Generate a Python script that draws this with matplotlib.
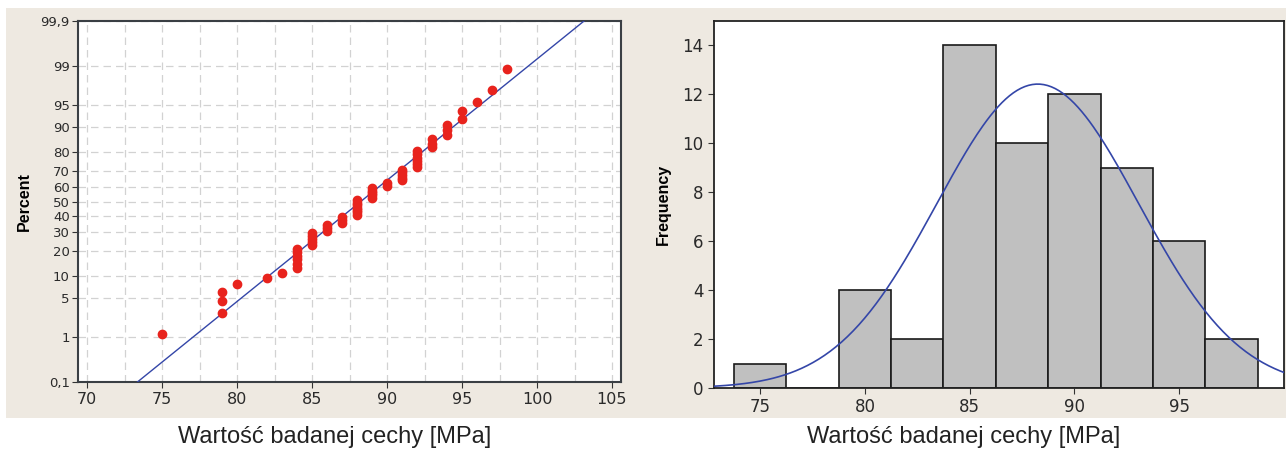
import matplotlib
matplotlib.use("Agg")
import matplotlib.pyplot as plt
from matplotlib.patches import Rectangle
from statistics import NormalDist
import numpy as np

# measured values (MPa) and how many times each occurs
values = [75, 79, 80, 82, 83, 84, 85, 86, 87, 88, 89, 90, 91, 92, 93, 94, 95, 96, 97, 98]
counts = [1, 3, 1, 1, 1, 6, 5, 3, 3, 7, 5, 2, 5, 6, 3, 3, 2, 1, 1, 1]

pct_ticks = [0.1, 1, 5, 10, 20, 30, 40, 50, 60, 70, 80, 90, 95, 99, 99.9]
pct_labels = ["0,1", "1", "5", "10", "20", "30", "40", "50", "60", "70", "80", "90", "95", "99", "99,9"]
prob_xticks = [70, 75, 80, 85, 90, 95, 100, 105]

bin_edges = [73.75 + 2.5 * k for k in range(11)]
hist_xticks = [75, 80, 85, 90, 95]
hist_yticks = [0, 2, 4, 6, 8, 10, 12, 14]

xlabel = "Wartość badanej cechy [MPa]"

data = np.repeat(values, counts).astype(float)
n = len(data)
mu = float(data.mean())
sd = float(data.std(ddof=1))
nd = NormalDist(mu, sd)
std_norm = NormalDist()

red = "#e8231d"
blue = "#3446a8"
beige = "#eee9e1"
tick_font = "DejaVu Sans"

fig = plt.figure(figsize=(12.86, 4.5), dpi=100)
fig.patch.set_facecolor("white")
fig.patches.append(Rectangle((6 / 1286, 1 - 418 / 450), 1, 410 / 450, transform=fig.transFigure,
                             facecolor=beige, edgecolor="none", zorder=-5))

# ---- normal probability plot ----
ax1 = fig.add_axes([78 / 1286, 1 - 382 / 450, 543 / 1286, 361 / 450])
ax1.set_facecolor("white")

ranks = np.arange(1, n + 1)
pos = (ranks - 0.3) / (n + 0.4)
z_pts = [std_norm.inv_cdf(float(p)) for p in pos]
ax1.plot(data, z_pts, "o", color=red, ms=6, mec=red, zorder=4, clip_on=False)

z_lo = std_norm.inv_cdf(0.001)
z_hi = std_norm.inv_cdf(0.999)
zz = np.linspace(z_lo, z_hi, 50)
ax1.plot(mu + zz * sd, zz, color=blue, lw=1.0, zorder=3)

ax1.set_xlim(69.4, 105.6)
ax1.set_ylim(z_lo, z_hi)
ax1.set_yticks([std_norm.inv_cdf(p / 100) for p in pct_ticks])
ax1.set_yticklabels(pct_labels)
ax1.set_xticks(prob_xticks)
ax1.set_xticks(np.arange(72.5, 105, 5), minor=True)
ax1.tick_params(which="minor", length=0)
ax1.grid(True, which="both", color="#d2d2d2", ls=(0, (6, 4)), lw=0.9)
ax1.set_axisbelow(True)
ax1.tick_params(axis="both", labelsize=11.5, length=4, color="#333333", labelcolor="#2a2a2a")
ax1.tick_params(axis="y", labelsize=9.5, pad=2)
for lab in ax1.get_xticklabels() + ax1.get_yticklabels():
    lab.set_family(tick_font)
for sp in ax1.spines.values():
    sp.set_color("#3a3f44")
    sp.set_linewidth(1.5)
ax1.set_ylabel("Percent", fontsize=11.5, fontweight="bold", family="Liberation Sans", labelpad=6)
fig.text(335 / 1286, 1 - 437 / 450, xlabel, ha="center", va="center", fontsize=17,
         family="Liberation Sans", color="#222222")

# ---- histogram with fitted normal curve ----
ax2 = fig.add_axes([714 / 1286, 1 - 388 / 450, 570 / 1286, 367 / 450])
ax2.set_facecolor("white")
ax2.hist(data, bins=bin_edges, color="#c0c0c0", edgecolor="#1a1a1a", lw=1.2, zorder=2)

xx = np.linspace(72.8, 100, 300)
bw = bin_edges[1] - bin_edges[0]
ax2.plot(xx, [nd.pdf(float(x)) * n * bw for x in xx], color=blue, lw=1.2, zorder=3)

ax2.set_xlim(72.8, 100)
ax2.set_ylim(0, 15)
ax2.set_xticks(hist_xticks)
ax2.set_yticks(hist_yticks)
ax2.tick_params(axis="both", labelsize=12, length=4, color="#333333", labelcolor="#2a2a2a")
for lab in ax2.get_xticklabels() + ax2.get_yticklabels():
    lab.set_family(tick_font)
for sp in ax2.spines.values():
    sp.set_color("#222222")
    sp.set_linewidth(1.3)
ax2.set_ylabel("Frequency", fontsize=11.5, fontweight="bold", family="Liberation Sans", labelpad=8)
fig.text(964 / 1286, 1 - 437 / 450, xlabel, ha="center", va="center", fontsize=17,
         family="Liberation Sans", color="#222222")

fig.savefig("out.png", dpi=100, facecolor=fig.get_facecolor())
